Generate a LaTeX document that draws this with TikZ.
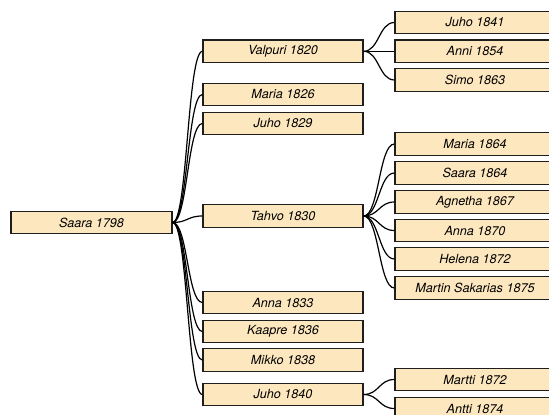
\documentclass[tikz,border=0pt]{standalone}
\usepackage{fontspec}
\setmainfont{TeX Gyre Heros}
\usetikzlibrary{calc}
\definecolor{boxfill}{RGB}{253,231,190}
\definecolor{boxline}{RGB}{30,30,30}
\tikzset{
  person/.style={draw=boxline, fill=boxfill, line width=1.2pt, rectangle,
    minimum width=160pt, minimum height=22.5pt, inner sep=0pt,
    font=\fontsize{12.6}{14}\selectfont\itshape},
  edge/.style={draw=black, line width=1.2pt}
}
\newcommand\lnk[2]{\draw[edge] let \p1=(#1.east), \p2=(#2.west) in
  (\p1) .. controls ({(\x1+\x2)/2},\y1) and ({(\x1+\x2)/2},\y2) .. (\p2);}
\begin{document}
\begin{tikzpicture}[x=1pt,y=-1pt]
\useasboundingbox (0,0) rectangle (549,415);
\clip (0,0) rectangle (549,415);
% root
\node[person, minimum width=161pt] (saara) at (91.5,222.5) {Saara 1798};
% level 1
\node[person] (valpuri) at (283,51.3) {Valpuri 1820};
\node[person] (maria26) at (283,94.5) {Maria 1826};
\node[person] (juho29) at (283,123.5) {Juho 1829};
\node[person] (tahvo) at (283,216) {Tahvo 1830};
\node[person] (anna33) at (283,302.5) {Anna 1833};
\node[person] (kaapre) at (283,331.5) {Kaapre 1836};
\node[person] (mikko) at (283,360) {Mikko 1838};
\node[person] (juho40) at (283,394.5) {Juho 1840};
% level 2
\node[person] (juho41) at (475,22.5) {Juho 1841};
\node[person] (anni) at (475,51.3) {Anni 1854};
\node[person] (simo) at (475,80) {Simo 1863};
\node[person] (maria64) at (475,144) {Maria 1864};
\node[person] (saara64) at (475,173) {Saara 1864};
\node[person] (agnetha) at (475,202) {Agnetha 1867};
\node[person] (anna70) at (475,230.5) {Anna 1870};
\node[person] (helena) at (475,259) {Helena 1872};
\node[person] (martin) at (475,288) {Martin Sakarias 1875};
\node[person] (martti) at (475,379.5) {Martti 1872};
\node[person] (antti) at (475,408.5) {Antti 1874};
% links
\foreach \c in {valpuri,maria26,juho29,tahvo,anna33,kaapre,mikko,juho40} {\lnk{saara}{\c}}
\foreach \c in {juho41,anni,simo} {\lnk{valpuri}{\c}}
\foreach \c in {maria64,saara64,agnetha,anna70,helena,martin} {\lnk{tahvo}{\c}}
\foreach \c in {martti,antti} {\lnk{juho40}{\c}}
\end{tikzpicture}
\end{document}
